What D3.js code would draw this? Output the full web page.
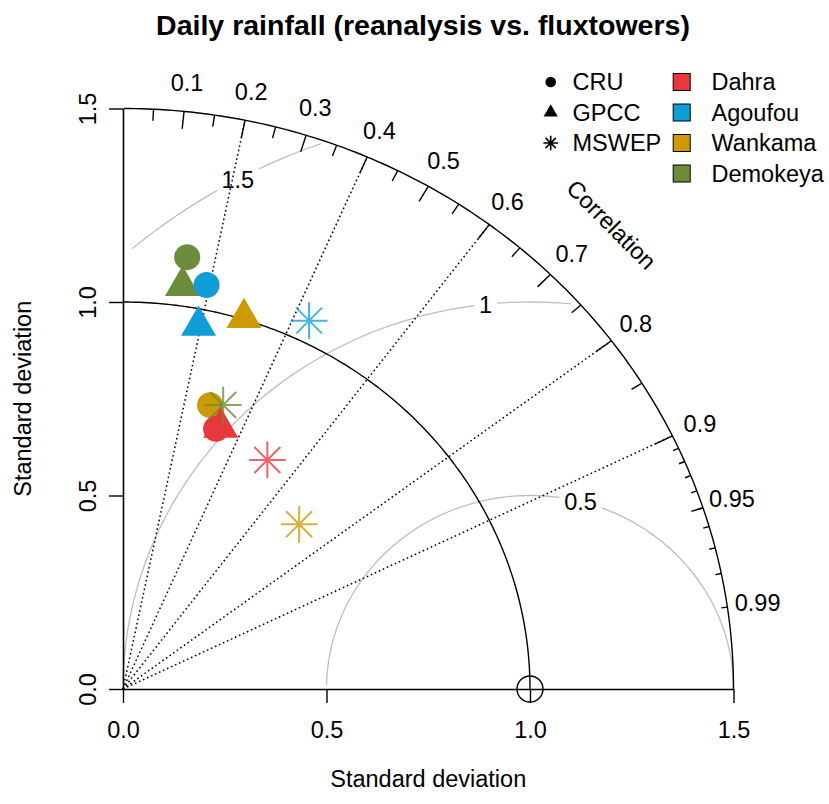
<!DOCTYPE html>
<html><head><meta charset="utf-8">
<script src="https://cdn.jsdelivr.net/npm/d3@7"></script>
<style>body{margin:0;background:#fff}svg{display:block}</style>
</head><body>
<svg id="chart" width="829" height="804"></svg>
<script>
// ---- data ----
const sites = ["Dahra", "Agoufou", "Wankama", "Demokeya"];
const products = ["CRU", "GPCC", "MSWEP"];
const cruSD    = [0.710, 1.064, 0.764, 1.127];
const cruCor   = [0.322, 0.193, 0.280, 0.140];
const gpccSD   = [0.717, 0.957, 1.004, 1.052];
const gpccCor  = [0.335, 0.194, 0.296, 0.139];
const mswepSD  = [0.690, 1.056, 0.607, 0.774];
const mswepCor = [0.514, 0.433, 0.713, 0.318];
const sdTicks = [0, 0.5, 1.0, 1.5];
const sdTickLabels = ["0.0", "0.5", "1.0", "1.5"];
const corLabels = [0.1, 0.2, 0.3, 0.4, 0.5, 0.6, 0.7, 0.8, 0.9, 0.95, 0.99];
const corMedTicks = [0.05, 0.15, 0.25, 0.35, 0.45, 0.55, 0.65, 0.75, 0.85, 0.95];
const corSmallTicks = [0.91, 0.92, 0.93, 0.94, 0.95, 0.96, 0.97, 0.98, 0.99];
const corBigTicks = [0.1, 0.2, 0.3, 0.4, 0.5, 0.6, 0.7, 0.8, 0.9];
const corLines = [0.2, 0.4, 0.6, 0.8, 0.9];
const gammaLevels = [0.5, 1, 1.5];
const refSD = 1;
const maxSD = 1.5;
const siteColors = ["#E8383D", "#0F9DD8", "#CC9A06", "#6B8C3A"];

// ---- layout ----
const FONT = "'Liberation Sans', Arial, Helvetica, sans-serif";
const FS = 23.5;
const svg = d3.select("#chart");
const x = d3.scaleLinear().domain([0, 1.5]).range([123, 733.5]);
const y = d3.scaleLinear().domain([0, 1.5]).range([689, 108.5]);
const polar = (r, a) => [x(r * Math.cos(a)), y(r * Math.sin(a))];
const line = d3.line();

// title
svg.append("text").attr("x", 423).attr("y", 35).attr("text-anchor", "middle")
  .attr("font-family", FONT).attr("font-weight", "bold").attr("font-size", 28.5)
  .text("Daily rainfall (reanalysis vs. fluxtowers)");

// gamma (centred RMS) arcs, plotrix-style stepping
const tSeq = d3.range(0, Math.PI, 0.03);
gammaLevels.forEach((g, gi) => {
  const xc = tSeq.map(t => Math.cos(t) * g + refSD);
  const yc = tSeq.map(t => Math.sin(t) * g);
  let end = xc.findIndex(v => v < 0);
  end = end >= 0 ? end - 1 : tSeq.length - 1;
  let start = -1;
  xc.forEach((v, i) => { if (v * v + yc[i] * yc[i] > maxSD * maxSD) start = i; });
  start = start + 1;
  const pts = [];
  for (let i = start; i <= end; i++) pts.push([x(xc[i]), y(yc[i])]);
  svg.append("path").attr("d", line(pts)).attr("fill", "none")
    .attr("stroke", "#BEBEBE").attr("stroke-width", 1.3);
});
// gamma labels (boxed)
const labelPos = [45, 57, 70];
gammaLevels.forEach((g, gi) => {
  const t = (labelPos[gi] - 1) * 0.03;
  const lx = x(Math.cos(t) * g + refSD), ly = y(Math.sin(t) * g);
  const txt = svg.append("text").attr("x", lx).attr("y", ly).attr("dy", "0.35em")
    .attr("text-anchor", "middle").attr("font-family", FONT).attr("font-size", FS)
    .text(String(g));
  const bb = txt.node().getBBox();
  svg.insert("rect", () => txt.node()).attr("x", bb.x - 5).attr("y", bb.y + 2)
    .attr("width", bb.width + 10).attr("height", bb.height - 4).attr("fill", "#fff");
});

// reference SD arc
const refArc = d3.range(0, Math.PI / 2 + 0.001, 0.01).map(a => polar(refSD, Math.min(a, Math.PI / 2)));
svg.append("path").attr("d", line(refArc)).attr("fill", "none").attr("stroke", "#000").attr("stroke-width", 1.4);
// outer arc
const outArc = d3.range(0, Math.PI / 2 + 0.001, 0.01).map(a => polar(maxSD, Math.min(a, Math.PI / 2)));
svg.append("path").attr("d", line(outArc)).attr("fill", "none").attr("stroke", "#000").attr("stroke-width", 1.4);

// correlation dotted lines
corLines.forEach(c => {
  const a = Math.acos(c);
  svg.append("path").attr("d", line([polar(0, a), polar(maxSD, a)]))
    .attr("stroke", "#000").attr("stroke-width", 1.5).attr("stroke-dasharray", "1.6,2.8");
});
// ticks on the outer arc
const tick = (vals, frac) => vals.forEach(c => {
  const a = Math.acos(c);
  svg.append("path").attr("d", line([polar(maxSD, a), polar(maxSD * frac, a)]))
    .attr("stroke", "#000").attr("stroke-width", 1.4);
});
tick(corBigTicks, 0.97);
tick(corMedTicks, 0.98);
tick(corSmallTicks, 0.99);
// correlation labels
corLabels.forEach(c => {
  const [lx, ly] = polar(maxSD * 1.05, Math.acos(c));
  svg.append("text").attr("x", lx).attr("y", ly).attr("dy", "0.35em").attr("text-anchor", "middle")
    .attr("font-family", FONT).attr("font-size", FS).text(String(c));
});
svg.append("text").attr("transform", `translate(${x(maxSD * 0.8)},${y(maxSD * 0.8)}) rotate(45)`)
  .attr("dy", "0.35em").attr("text-anchor", "middle").attr("font-family", FONT).attr("font-size", FS)
  .text("Correlation");

// axes
const xAxis = d3.axisBottom(x).tickValues(sdTicks).tickFormat((d, i) => sdTickLabels[i]).tickSizeOuter(0).tickSizeInner(14);
const gx = svg.append("g").attr("transform", `translate(0,${y(0)})`).call(xAxis);
gx.select(".domain").attr("stroke-width", 1.6);
gx.selectAll(".tick line").attr("stroke-width", 1.4);
gx.selectAll(".tick text").attr("font-family", FONT).attr("font-size", FS).attr("fill", "#000").attr("y", 32).attr("dy", "0.71em");
const yAxis = d3.axisLeft(y).tickValues(sdTicks).tickFormat((d, i) => sdTickLabels[i]).tickSizeOuter(0).tickSizeInner(14);
const gy = svg.append("g").attr("transform", `translate(${x(0)},0)`).call(yAxis);
gy.select(".domain").attr("stroke-width", 1.6);
gy.selectAll(".tick line").attr("stroke-width", 1.4);
gy.selectAll(".tick text").attr("font-family", FONT).attr("font-size", FS).attr("fill", "#000")
  .attr("x", null).attr("dy", null).attr("text-anchor", "middle")
  .attr("transform", "translate(-27,0) rotate(-90)");
svg.append("text").attr("x", x(0.75)).attr("y", 787).attr("text-anchor", "middle")
  .attr("font-family", FONT).attr("font-size", FS).text("Standard deviation");
svg.append("text").attr("transform", `translate(31,${y(0.75)}) rotate(-90)`).attr("text-anchor", "middle")
  .attr("font-family", FONT).attr("font-size", FS).text("Standard deviation");

// reference point
svg.append("circle").attr("cx", x(refSD)).attr("cy", y(0)).attr("r", 13)
  .attr("fill", "none").attr("stroke", "#000").attr("stroke-width", 1.4);

// symbols
const CR = 13;
const triPath = r => `M0,${-r}L${r * Math.sqrt(3) / 2},${r / 2}L${-r * Math.sqrt(3) / 2},${r / 2}Z`;
const starPath = L => d3.range(4).map(k => {
  const a = k * Math.PI / 4;
  return `M${-L * Math.cos(a)},${-L * Math.sin(a)}L${L * Math.cos(a)},${L * Math.sin(a)}`;
}).join("");
const drawSym = (g, prod, col, sz, alpha) => {
  if (prod === "CRU") g.append("circle").attr("r", sz).attr("fill", col);
  else if (prod === "GPCC") g.append("path").attr("d", triPath(sz * 1.555)).attr("fill", col);
  else g.append("path").attr("d", starPath(sz * Math.SQRT2)).attr("stroke", col)
    .attr("stroke-width", 2).attr("stroke-opacity", alpha).attr("fill", "none");
};
const prodSD = [cruSD, gpccSD, mswepSD];
const prodCor = [cruCor, gpccCor, mswepCor];
const drawOrder = [];
[3, 2, 1, 0].forEach(si => [0, 1].forEach(pi => drawOrder.push([pi, si])));
[0, 1, 2, 3].forEach(si => drawOrder.push([2, si]));
drawOrder.forEach(([pi, si]) => {
  const sd = prodSD[pi][si], a = Math.acos(prodCor[pi][si]);
  const [px, py] = polar(sd, a);
  const g = svg.append("g").attr("transform", `translate(${px},${py})`);
  drawSym(g, products[pi], siteColors[si], CR, 0.78);
});

// legend
const legRowY = [82, 112.5, 143, 173.5];
products.forEach((p, i) => {
  const g = svg.append("g").attr("transform", `translate(550.7,${legRowY[i]})`);
  if (p === "CRU") g.append("circle").attr("r", 5.3).attr("fill", "#000");
  else if (p === "GPCC") g.append("path").attr("d", triPath(8.2)).attr("fill", "#000");
  else g.append("path").attr("d", starPath(7.3)).attr("stroke", "#000").attr("stroke-width", 1.6);
  svg.append("text").attr("x", 572.5).attr("y", legRowY[i]).attr("dy", "0.35em")
    .attr("font-family", FONT).attr("font-size", FS).text(p);
});
sites.forEach((s, i) => {
  svg.append("rect").attr("x", 681.7 - 8.5).attr("y", legRowY[i] - 8.5).attr("width", 17).attr("height", 17)
    .attr("fill", siteColors[i]).attr("stroke", "#000").attr("stroke-width", 1);
  svg.append("text").attr("x", 711.5).attr("y", legRowY[i]).attr("dy", "0.35em")
    .attr("font-family", FONT).attr("font-size", FS).text(s);
});
</script>
</body></html>
